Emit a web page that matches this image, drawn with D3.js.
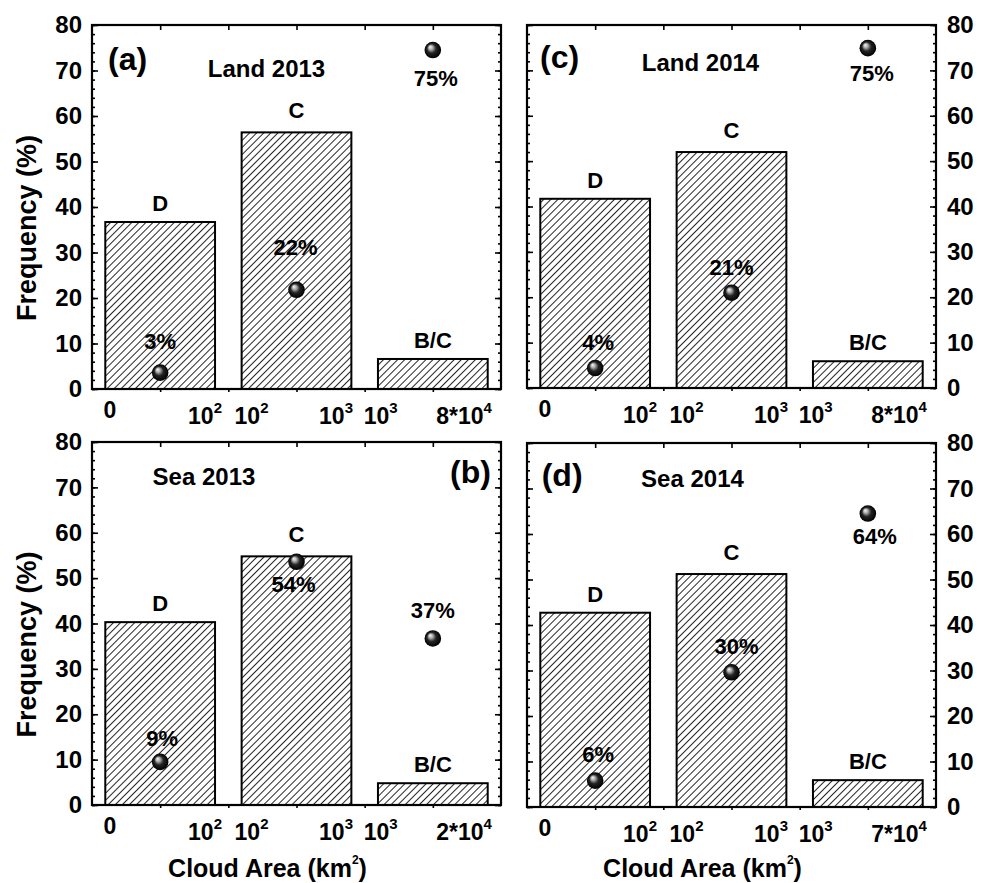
<!DOCTYPE html>
<html><head><meta charset="utf-8">
<script src="https://cdn.jsdelivr.net/npm/d3@7"></script>
<style>
html,body{margin:0;padding:0;background:#fff;}
svg{display:block;font-family:"Liberation Sans",Arial,sans-serif;font-weight:bold;}
</style></head>
<body><svg id="chart" width="986" height="883"></svg>
<script>
// ---------------- data ----------------
const categories = ["D", "C", "B/C"];
const panelIds = ["(a)", "(b)", "(c)", "(d)"];
const panelTitles = ["Land 2013", "Sea 2013", "Land 2014", "Sea 2014"];
const freqLand2013 = [36.7, 56.4, 6.6];
const freqSea2013 = [40.3, 54.8, 4.8];
const freqLand2014 = [41.7, 52.0, 5.9];
const freqSea2014 = [42.7, 51.2, 5.9];
const pointLand2013 = [3.6, 21.8, 74.5];
const pointSea2013 = [9.5, 53.6, 36.7];
const pointLand2014 = [4.4, 21.0, 74.9];
const pointSea2014 = [5.8, 29.6, 64.5];
const pctLand2013 = ["3%", "22%", "75%"];
const pctSea2013 = ["9%", "54%", "37%"];
const pctLand2014 = ["4%", "21%", "75%"];
const pctSea2014 = ["6%", "30%", "64%"];
const xLabelsLand2013 = ["0", "10^2", "10^2", "10^3", "10^3", "8*10^4"];
const xLabelsSea2013 = ["0", "10^2", "10^2", "10^3", "10^3", "2*10^4"];
const xLabelsLand2014 = ["0", "10^2", "10^2", "10^3", "10^3", "8*10^4"];
const xLabelsSea2014 = ["0", "10^2", "10^2", "10^3", "10^3", "7*10^4"];
const yTicks = [0, 10, 20, 30, 40, 50, 60, 70, 80];
const yMinorTicks = d3.range(0, 81, 2);
const xTickPos = [1, 1.5, 2, 2.5, 3];
const xLabelPos = [0.632, 1.329, 1.670, 2.290, 2.617, 3.229];
const yTitle = "Frequency (%)";
const xTitle = "Cloud Area (km^2)";

// ---------------- layout ----------------
const panels = [
  {x0:92, x1:501, y0:25, y1:389, freq:freqLand2013, pts:pointLand2013, pct:pctLand2013, xl:xLabelsLand2013,
   id:0, idPos:[108,70], titlePos:[266.5,77], yLab:"left", yTitle:true, xTitle:false,
   pdx:[0,-1,3], pdy:[-23.5,-34.5,35.5]},
  {x0:92, x1:501, y0:442, y1:805, freq:freqSea2013, pts:pointSea2013, pct:pctSea2013, xl:xLabelsSea2013,
   id:1, idPos:[450,483], titlePos:[204,485], yLab:"left", yTitle:true, xTitle:true,
   pdx:[2,-3,0], pdy:[-15.5,30.5,-20.5]},
  {x0:527, x1:936, y0:25, y1:388, freq:freqLand2014, pts:pointLand2014, pct:pctLand2014, xl:xLabelsLand2014,
   id:2, idPos:[540,68], titlePos:[700.5,71], yLab:"right", yTitle:false, xTitle:false,
   pdx:[3,0,4], pdy:[-18.5,-17.5,32.5]},
  {x0:527, x1:936, y0:443, y1:807, freq:freqSea2014, pts:pointSea2014, pct:pctSea2014, xl:xLabelsSea2014,
   id:3, idPos:[541.7,486], titlePos:[692.5,487], yLab:"right", yTitle:false, xTitle:true,
   pdx:[3,5,7], pdy:[-18.5,-18.5,30.5]}
];
const catLabelDy = [-11, -14, -11];
const barWidth = 0.805;

const svg = d3.select("#chart");
const defs = svg.append("defs");
const pat = defs.append("pattern").attr("id","hatch").attr("patternUnits","userSpaceOnUse")
  .attr("width",5).attr("height",5).attr("patternTransform","rotate(45)");
pat.append("rect").attr("width",5).attr("height",5).attr("fill","#fff");
pat.append("line").attr("x1",0).attr("y1",-1).attr("x2",0).attr("y2",6)
  .attr("stroke","#000").attr("stroke-width",1.7);
const grad = defs.append("radialGradient").attr("id","sphere")
  .attr("cx","50%").attr("cy","50%").attr("r","50%").attr("fx","33%").attr("fy","30%");
grad.append("stop").attr("offset","0%").attr("stop-color","#f8f8f8");
grad.append("stop").attr("offset","25%").attr("stop-color","#b0b0b0");
grad.append("stop").attr("offset","55%").attr("stop-color","#252525");
grad.append("stop").attr("offset","100%").attr("stop-color","#000");

function supText(sel, str, baseSize, supSize, supDy) {
  const parts = str.split("^");
  sel.append("tspan").text(parts[0]);
  if (parts.length > 1) {
    sel.append("tspan").attr("font-size", supSize).attr("dy", supDy).text(parts[1]);
  }
}

panels.forEach(p => {
  const x = d3.scaleLinear().domain([0.5, 3.5]).range([p.x0, p.x1]);
  const y = d3.scaleLinear().domain([0, 80]).range([p.y1, p.y0]);
  const g = svg.append("g");

  // bars
  g.selectAll("rect.bar").data(p.freq).join("rect").attr("class","bar")
    .attr("x", (d,i) => x(i + 1 - barWidth/2))
    .attr("width", x(1 + barWidth/2) - x(1 - barWidth/2))
    .attr("y", d => y(d)).attr("height", d => y(0) - y(d))
    .attr("fill","url(#hatch)").attr("stroke","#000").attr("stroke-width",2);

  // category labels
  g.selectAll("text.cat").data(p.freq).join("text").attr("class","cat")
    .attr("x", (d,i) => x(i + 1)).attr("y", (d,i) => y(d) + catLabelDy[i])
    .attr("text-anchor","middle").attr("font-size",22).text((d,i) => categories[i]);

  // axes ticks (inward)
  const ticksG = g.append("g");
  const yl = ticksG.append("g").attr("transform",`translate(${p.x0},0)`)
    .call(d3.axisLeft(y).tickValues(yTicks).tickSize(-6).tickPadding(10)
      .tickFormat(p.yLab === "left" ? d3.format("d") : ""));
  yl.append("g").call(d3.axisLeft(y).tickValues(yMinorTicks).tickSize(-3).tickFormat(""));
  const yr = ticksG.append("g").attr("transform",`translate(${p.x1},0)`)
    .call(d3.axisRight(y).tickValues(yTicks).tickSize(-6).tickPadding(11)
      .tickFormat(p.yLab === "right" ? d3.format("d") : ""));
  yr.append("g").call(d3.axisRight(y).tickValues(yMinorTicks).tickSize(-3).tickFormat(""));
  ticksG.append("g").attr("transform",`translate(0,${p.y0})`)
    .call(d3.axisTop(x).tickValues(xTickPos).tickSize(-5).tickFormat(""));
  ticksG.append("g").attr("transform",`translate(0,${p.y1})`)
    .call(d3.axisBottom(x).tickValues(xTickPos).tickSize(3).tickFormat(""));
  ticksG.selectAll(".domain").remove();
  ticksG.selectAll(".tick line").attr("stroke","#000").attr("stroke-width",1.6);
  ticksG.selectAll(".tick text").attr("font-size",24).attr("font-family","Liberation Sans, Arial, sans-serif")
    .attr("font-weight","bold").attr("fill","#000");

  // frame
  g.append("rect").attr("x",p.x0).attr("y",p.y0).attr("width",p.x1-p.x0).attr("height",p.y1-p.y0)
    .attr("fill","none").attr("stroke","#000").attr("stroke-width",2.2);

  // x labels
  p.xl.forEach((s,i) => {
    const t = g.append("text").attr("x", x(xLabelPos[i]))
      .attr("y", p.y1 + (s.includes("^") ? 35 : 29))
      .attr("text-anchor","middle").attr("font-size",23);
    supText(t, s, 23, 15, -11);
  });

  // spheres
  g.selectAll("circle.pt").data(p.pts).join("circle").attr("class","pt")
    .attr("cx",(d,i) => x(i+1)).attr("cy", d => y(d)).attr("r",8.3)
    .attr("fill","url(#sphere)");
  // percent labels
  g.selectAll("text.pct").data(p.pts).join("text").attr("class","pct")
    .attr("x",(d,i) => x(i+1) + p.pdx[i]).attr("y",(d,i) => y(d) + p.pdy[i])
    .attr("text-anchor","middle").attr("font-size",22).text((d,i) => p.pct[i]);

  // panel id and title
  g.append("text").attr("x",p.idPos[0]).attr("y",p.idPos[1]).attr("font-size",32).text(panelIds[p.id]);
  g.append("text").attr("x",p.titlePos[0]).attr("y",p.titlePos[1]).attr("text-anchor","middle")
    .attr("font-size",24).text(panelTitles[p.id]);

  if (p.yTitle) {
    const cy = (p.y0 + p.y1)/2 + 21;
    g.append("text").attr("transform",`translate(36,${cy}) rotate(-90)`)
      .attr("text-anchor","middle").attr("font-size",27).text(yTitle);
  }
  if (p.xTitle) {
    const cx = (p.x0 + p.x1)/2 - 29;
    const t = g.append("text").attr("x",cx).attr("y",877).attr("text-anchor","middle").attr("font-size",25);
    const parts = xTitle.split("^");
    t.append("tspan").text(parts[0]);
    t.append("tspan").attr("font-size",12).attr("dy",-13).text(parts[1].charAt(0));
    t.append("tspan").attr("dy",13).text(parts[1].slice(1));
  }
});
</script></body></html>
